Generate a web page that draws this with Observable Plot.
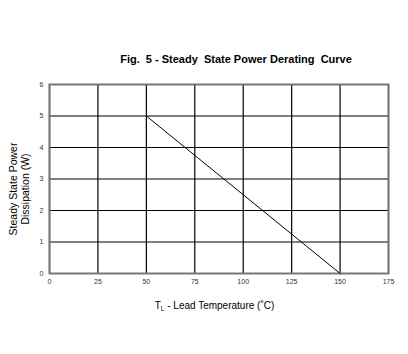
<!DOCTYPE html>
<html><head><meta charset="utf-8">
<script src="https://cdn.jsdelivr.net/npm/d3@7"></script>
<script src="https://cdn.jsdelivr.net/npm/@observablehq/plot@0.6"></script>
<style>
html,body{margin:0;padding:0;background:#fff;}
svg{font-family:"Liberation Sans",Arial,sans-serif;}
</style></head>
<body><div id="chart"></div>
<script>
const temps = [50, 150];
const power = [5, 0];
const xTicks = [0, 25, 50, 75, 100, 125, 150, 175];
const yTicks = [0, 1, 2, 3, 4, 5, 6];
const title = "Fig.  5 - Steady  State Power Derating  Curve";
const yLabelLines = ["Steady State Power", "Dissipation (W)"];
const xLabelMain = "T";
const xLabelSub = "L";
const xLabelRest = " - Lead Temperature (˚C)";

const curve = temps.map((t, i) => ({t, p: power[i]}));

const chart = Plot.plot({
  width: 408, height: 354,
  marginLeft: 49, marginRight: 20, marginTop: 84, marginBottom: 81,
  style: {fontFamily: '"Liberation Sans", Arial, sans-serif', background: "#fff"},
  x: {domain: [0, 175], ticks: xTicks},
  y: {domain: [0, 6], ticks: yTicks},
  marks: [
    Plot.gridX(xTicks, {stroke: "#000", strokeOpacity: 1, strokeWidth: 1.2}),
    Plot.gridY(yTicks, {stroke: "#000", strokeOpacity: 1, strokeWidth: 1.2}),
    Plot.frame({stroke: "#777", strokeWidth: 2}),
    Plot.axisX(xTicks, {tickSize: 0, tickPadding: 6, fontSize: 7, fill: "#333", label: null}),
    Plot.axisY(yTicks, {tickSize: 0, tickPadding: 6, fontSize: 7, fill: "#333", label: null}),
    Plot.line(curve, {x: "t", y: "p", stroke: "#000", strokeWidth: 1}),
    Plot.text([title], {frameAnchor: "top", dy: -29, dx: 17, fontSize: 11, fontWeight: "bold", fill: "#000"})
  ]
});
document.getElementById("chart").appendChild(chart);

const svg = d3.select(chart);
// y-axis label (two lines, rotated)
const yl = svg.append("text")
  .attr("transform", "translate(19.5,189) rotate(-90)")
  .attr("text-anchor", "middle")
  .attr("font-size", 10.5)
  .attr("fill", "#000");
yLabelLines.forEach((s, i) => {
  yl.append("tspan").attr("x", 0).attr("y", -2.5 + i * 11.5).text(s);
});

// x-axis label with subscript
const lbl = svg.append("text")
  .attr("x", (49 + 388) / 2 - 4)
  .attr("y", 273 + 36)
  .attr("text-anchor", "middle")
  .attr("font-size", 10)
  .attr("fill", "#000");
lbl.append("tspan").text(xLabelMain);
lbl.append("tspan").attr("font-size", 6.5).attr("dy", 2).text(xLabelSub);
lbl.append("tspan").attr("dy", -2).text(xLabelRest);
</script></body></html>
